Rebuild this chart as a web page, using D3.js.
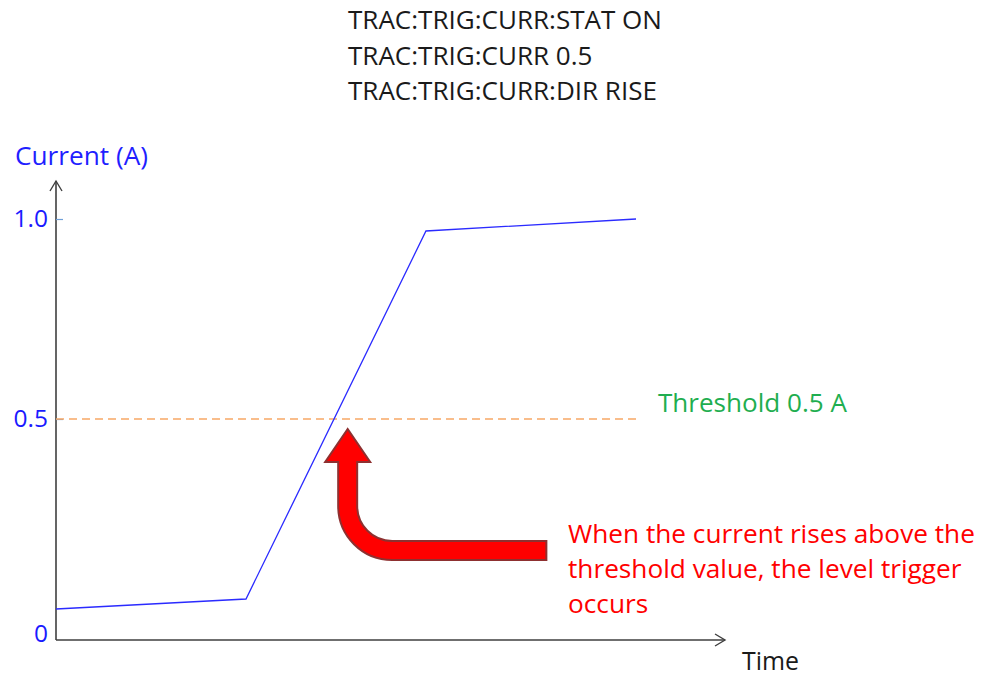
<!DOCTYPE html>
<html>
<head>
<meta charset="utf-8">
<script src="https://cdn.jsdelivr.net/npm/d3@7"></script>
<style>
  html, body { margin: 0; padding: 0; background: #ffffff; }
  svg { display: block; font-family: "Open Sans", "Noto Sans", sans-serif; }
</style>
</head>
<body>
<svg id="chart" width="988" height="677"></svg>
<script>
// SCPI commands that set up the current level trigger
const commandLines = ["TRAC:TRIG:CURR:STAT ON", "TRAC:TRIG:CURR 0.5", "TRAC:TRIG:CURR:DIR RISE"];

// Current waveform (time in arbitrary units, current in A)
const timeValues = [0, 28.4, 55.3, 86.7];
const currentValues = [0.025, 0.05, 0.97, 1.0];

// Axis ticks
const yTickValues = [0, 0.5, 1.0];
const yTickLabels = ["0", "0.5", "1.0"];

// Trigger threshold
const thresholdValue = 0.5;
const thresholdLabel = "Threshold 0.5 A";

// Annotation
const noteLines = ["When the current rises above the", "threshold value, the level trigger", "occurs"];
const arrowTip = { t: 43.6, value: 0.475 };
const arrowTailT = 73.3;

const svg = d3.select("#chart");

const x = d3.scaleLinear().domain([0, 100]).range([56, 725]);
const y = d3.scaleLinear().domain([0, 1]).range([619, 219]);
const originY = 640;
const axisColor = "#3f3f3f";

// scale a text selection's font so that its first element spans the given width
function fitWidth(sel, width) {
  const base = +sel.attr("font-size");
  const w = sel.node().getComputedTextLength();
  sel.attr("font-size", (base * width / w).toFixed(2));
  return sel;
}

// command text block
const cmd = svg.append("g").attr("fill", "#1a1a1a").attr("font-size", 20);
cmd.selectAll("text").data(commandLines).join("text")
  .attr("x", 348)
  .attr("y", (d, i) => 29 + i * 35.5)
  .text(d => d);
{
  const w = cmd.select("text").node().getComputedTextLength();
  cmd.attr("font-size", (20 * 314 / w).toFixed(2));
}

// y axis with arrow
svg.append("line").attr("x1", x(0)).attr("x2", x(0)).attr("y1", originY).attr("y2", 181)
  .attr("stroke", axisColor).attr("stroke-width", 1.6);
svg.append("path")
  .attr("d", `M${x(0) - 6},${191} L${x(0)},${181} L${x(0) + 6},${191}`)
  .attr("fill", "none").attr("stroke", axisColor).attr("stroke-width", 1.4);

// x axis with arrow
svg.append("line").attr("x1", x(0)).attr("x2", x(100)).attr("y1", originY).attr("y2", originY)
  .attr("stroke", axisColor).attr("stroke-width", 1.6);
svg.append("path")
  .attr("d", `M${x(100) - 10},${originY - 6} L${x(100)},${originY} L${x(100) - 10},${originY + 6}`)
  .attr("fill", "none").attr("stroke", axisColor).attr("stroke-width", 1.4);

// y ticks (marks inside, labels outside)
const yAxis = d3.axisLeft(y)
  .tickValues(yTickValues)
  .tickFormat((d, i) => yTickLabels[i])
  .tickSizeInner(-7)
  .tickSizeOuter(0)
  .tickPadding(8);
const gy = svg.append("g").attr("transform", `translate(${x(0)},0)`).call(yAxis);
gy.select(".domain").remove();
gy.selectAll(".tick line").attr("stroke", "#6f9fd8").attr("stroke-width", 1.2);
gy.selectAll(".tick text")
  .attr("fill", "#1a1aff")
  .attr("font-size", 24.5)
  .attr("font-family", "'Open Sans', 'Noto Sans', sans-serif");
// the zero label sits at the axis origin
gy.selectAll(".tick").filter(d => d === 0).each(function () {
  const t = d3.select(this);
  t.select("line").remove();
  t.select("text").attr("y", originY - 6 - y(0));
});

// y axis title
fitWidth(svg.append("text").attr("x", 15).attr("y", 165)
  .attr("font-size", 22).attr("fill", "#1f1fff").text("Current (A)"), 133);

// x axis title
fitWidth(svg.append("text").attr("x", 742).attr("y", 670)
  .attr("font-size", 22).attr("fill", "#1a1a1a").text("Time"), 57);

// threshold line
svg.append("line")
  .attr("x1", x(0)).attr("x2", x(d3.max(timeValues)))
  .attr("y1", y(thresholdValue)).attr("y2", y(thresholdValue))
  .attr("stroke", "#f7a865").attr("stroke-width", 1.5)
  .attr("stroke-dasharray", "8,5");
fitWidth(svg.append("text").attr("x", 658).attr("y", 412)
  .attr("font-size", 22).attr("fill", "#1fae50").text(thresholdLabel), 189);

// current waveform
const line = d3.line().x(d => x(d[0])).y(d => y(d[1]));
svg.append("path")
  .datum(d3.zip(timeValues, currentValues))
  .attr("d", line)
  .attr("fill", "none")
  .attr("stroke", "#2b2bff")
  .attr("stroke-width", 1.3);

// bent arrow pointing at the crossing
const tx = x(arrowTip.t), ty = y(arrowTip.value);
const headLen = 33, headHalf = 22.5, shaftHalf = 9.5;
const bendY = ty + 77, rIn = 35, rOut = 54;
const cx = tx + shaftHalf + rIn;
const tailX = x(arrowTailT);
const arrowPath = [
  `M${tx},${ty}`,
  `L${tx + headHalf},${ty + headLen}`,
  `L${tx + shaftHalf},${ty + headLen}`,
  `L${tx + shaftHalf},${bendY}`,
  `A${rIn},${rIn} 0 0 0 ${cx},${bendY + rIn}`,
  `L${tailX},${bendY + rIn}`,
  `L${tailX},${bendY + rOut}`,
  `L${cx},${bendY + rOut}`,
  `A${rOut},${rOut} 0 0 1 ${cx - rOut},${bendY}`,
  `L${tx - shaftHalf},${ty + headLen}`,
  `L${tx - headHalf},${ty + headLen}`,
  "Z"
].join(" ");
svg.append("path").attr("d", arrowPath)
  .attr("fill", "#ff0000").attr("stroke", "#8e3030").attr("stroke-width", 2)
  .attr("stroke-linejoin", "miter");

// annotation text
const note = svg.append("g").attr("fill", "#ff0000").attr("font-size", 20);
note.selectAll("text").data(noteLines).join("text")
  .attr("x", 568)
  .attr("y", (d, i) => 543 + i * 35)
  .text(d => d);
{
  const w = note.select("text").node().getComputedTextLength();
  note.attr("font-size", (20 * 407 / w).toFixed(2));
}
</script>
</body>
</html>
